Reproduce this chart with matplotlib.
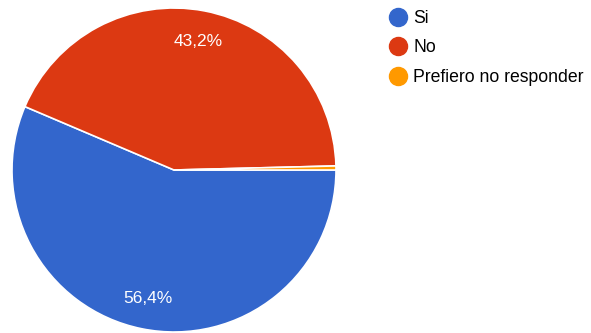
import matplotlib
matplotlib.use("Agg")
import matplotlib.pyplot as plt
from matplotlib.lines import Line2D

categories = ["Si", "No", "Prefiero no responder"]
values = [56.4, 43.2, 0.4]
colors = ["#3366cc", "#dc3912", "#ff9900"]

plt.rcParams["font.family"] = ["Liberation Sans", "DejaVu Sans"]

fig = plt.figure(figsize=(5.91, 3.33), dpi=100)
ax = fig.add_axes([12 / 591, 1 / 333, 324 / 591, 324 / 333])

def fmt(p):
    return "" if p < 1 else f"{p:.1f}%".replace(".", ",")

wedges, _, autotexts = ax.pie(
    values,
    colors=colors,
    startangle=0,
    counterclock=False,
    autopct=fmt,
    pctdistance=0.81,
    wedgeprops=dict(edgecolor="white", linewidth=1.2),
    textprops=dict(color="white", fontsize=12.5),
)
ax.set_xlim(-1, 1)
ax.set_ylim(-1, 1)
ax.set_aspect("equal")

handles = [
    Line2D([], [], marker="o", linestyle="", markersize=13,
           markerfacecolor=c, markeredgecolor=c)
    for c in colors
]
fig.legend(
    handles, categories,
    loc="upper left",
    bbox_to_anchor=(380.5 / 591, 1 - 3 / 333),
    frameon=False,
    fontsize=12.7,
    handletextpad=0.26,
    labelspacing=0.7,
    handlelength=1.2,
    borderaxespad=0,
)

fig.savefig("out.png", dpi=100, facecolor="white")
